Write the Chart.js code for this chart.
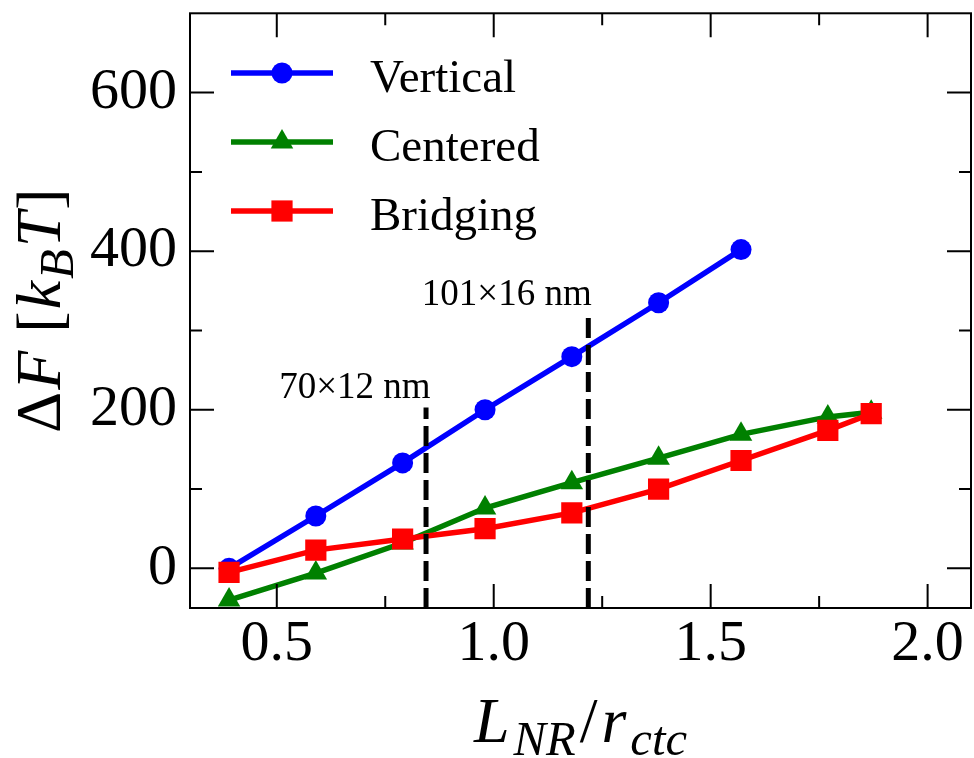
<!DOCTYPE html>
<html>
<head>
<meta charset="utf-8">
<script src="https://cdn.jsdelivr.net/npm/chart.js@4.4.1/dist/chart.umd.min.js"></script>
<style>
html, body { margin:0; padding:0; background:#fff; }
canvas { display:block; }
</style>
</head>
<body>
<canvas id="chart" width="974" height="758"></canvas>
<script>
// values
const xValues = [0.39, 0.59, 0.79, 0.98, 1.18, 1.38, 1.57, 1.77, 1.87]
const vertical = [0, 66, 133, 200, 267, 335, 402]
const centered = [-40, -6, 32, 76, 108, 139, 169, 191, 197]
const bridging = [-5, 23, 37, 50, 70, 100, 136, 174, 195]
const seriesNames = ['Vertical', 'Centered', 'Bridging']
const sizeX = [0.844, 1.218]
const sizeTop = [203, 323]
const sizeLabels = ['70×12 nm', '101×16 nm']
const xTicks = [0.5, 1.0, 1.5, 2.0]
const xMinor = [0.75, 1.25, 1.75]
const yTicks = [0, 200, 400, 600]
const yMinor = [100, 300, 500]

const SERIF = '"Liberation Serif", "Times New Roman", serif'
const toPoints = (ys) => ys.map((y, i) => ({x: xValues[i], y: y}))

const series = [
	{label: seriesNames[0], data: toPoints(vertical), color: '#0000ff', pointStyle: 'circle', radius: 10.5, order: 3},
	{label: seriesNames[1], data: toPoints(centered), color: '#008000', pointStyle: 'triangle', radius: 13, order: 2},
	{label: seriesNames[2], data: toPoints(bridging), color: '#ff0000', pointStyle: 'rect', radius: 15, order: 1}
]

const datasets = series.map(s => ({
	label: s.label,
	data: s.data,
	showLine: true,
	borderColor: s.color,
	backgroundColor: s.color,
	borderWidth: 5.5,
	pointStyle: s.pointStyle,
	pointRadius: s.radius,
	pointHoverRadius: s.radius,
	pointBackgroundColor: s.color,
	pointBorderColor: s.color,
	pointBorderWidth: 0,
	order: s.order,
	clip: 0
}))

// the two dashed size markers, from the bottom of the axis up to their tops
sizeX.forEach((x, i) => {
	datasets.push({
		label: 'size' + i,
		data: [{x: x, y: -50}, {x: x, y: sizeTop[i]}],
		showLine: true,
		borderColor: '#000',
		borderWidth: 5,
		borderDash: [20, 7],
		pointRadius: 0,
		order: 0,
		clip: 0
	})
})

// draw a run of pieces [text, italic, subscript], centred on x, baseline y
function drawRuns(ctx, runs, size, cx, by, gap) {
	const fontOf = r => (r[1] ? 'italic ' : '') + (r[2] ? size * 0.76 : size) + 'px ' + SERIF
	let total = gap * (runs.length - 1)
	const widths = runs.map(r => { ctx.font = fontOf(r); const w = ctx.measureText(r[0]).width; total += w; return w })
	let x = cx - total / 2
	ctx.textAlign = 'left'
	ctx.textBaseline = 'alphabetic'
	runs.forEach((r, i) => {
		ctx.font = fontOf(r)
		ctx.fillText(r[0], x, by + (r[2] ? size * 0.2 : 0))
		x += widths[i] + gap
	})
}

const framePlugin = {
	id: 'frame',
	afterDraw(chart) {
		const ctx = chart.ctx
		const a = chart.chartArea
		const xs = chart.scales.x, ys = chart.scales.y
		ctx.save()
		ctx.strokeStyle = '#000'
		ctx.lineWidth = 2
		ctx.strokeRect(a.left, a.top, a.right - a.left, a.bottom - a.top)
		const tick = (vals, len) => {
			vals.forEach(v => {
				const px = xs.getPixelForValue(v)
				ctx.beginPath()
				ctx.moveTo(px, a.bottom); ctx.lineTo(px, a.bottom - len)
				ctx.moveTo(px, a.top); ctx.lineTo(px, a.top + len)
				ctx.stroke()
			})
		}
		const tickY = (vals, len) => {
			vals.forEach(v => {
				const py = ys.getPixelForValue(v)
				ctx.beginPath()
				ctx.moveTo(a.left, py); ctx.lineTo(a.left + len, py)
				ctx.moveTo(a.right, py); ctx.lineTo(a.right - len, py)
				ctx.stroke()
			})
		}
		tick(xTicks, 24); tick(xMinor, 12)
		tickY(yTicks, 24); tickY(yMinor, 12)

		// size annotations
		ctx.fillStyle = '#000'
		ctx.font = '37px ' + SERIF
		ctx.textAlign = 'center'
		ctx.textBaseline = 'alphabetic'
		const labelPos = [[0.68, 215], [1.03, 332]]
		sizeLabels.forEach((t, i) => {
			ctx.fillText(t, xs.getPixelForValue(labelPos[i][0]), ys.getPixelForValue(labelPos[i][1]))
		})

		// legend
		const rows = [73, 142, 211]
		series.forEach((s, i) => {
			const y = rows[i]
			ctx.strokeStyle = s.color
			ctx.lineWidth = 5.5
			ctx.beginPath(); ctx.moveTo(231, y); ctx.lineTo(333, y); ctx.stroke()
			ctx.fillStyle = s.color
			Chart.helpers.drawPoint(ctx, {pointStyle: s.pointStyle, radius: s.radius, rotation: 0, borderWidth: 0}, 282, y)
			ctx.fillStyle = '#000'
			ctx.font = '47px ' + SERIF
			ctx.textAlign = 'left'
			ctx.textBaseline = 'alphabetic'
			ctx.fillText(s.label, 370, y + 19)
		})

		// axis titles
		ctx.fillStyle = '#000'
		drawRuns(ctx, [['L', 1, 0], ['NR', 1, 1], ['/', 0, 0], ['r', 1, 0], ['ctc', 1, 1]], 64, (a.left + a.right) / 2, 742, 4)
		ctx.translate(60, (a.top + a.bottom) / 2)
		ctx.rotate(-Math.PI / 2)
		drawRuns(ctx, [['\u0394', 0, 0], ['F', 1, 0], [' [', 0, 0], ['k', 1, 0], ['B', 1, 1], ['T', 1, 0], [']', 0, 0]], 64, 0, 0, 2)
		ctx.restore()
	}
}

new Chart(document.getElementById('chart'), {
	type: 'scatter',
	data: {datasets: datasets},
	options: {
		responsive: false,
		animation: false,
		devicePixelRatio: 1,
		layout: {autoPadding: false, padding: {left: 0, top: 13, right: 3, bottom: 0}},
		plugins: {legend: {display: false}, tooltip: {enabled: false}},
		scales: {
			x: {
				type: 'linear',
				min: 0.3,
				max: 2.1,
				grid: {display: false, drawTicks: false},
				border: {display: false},
				ticks: {
					stepSize: 0.5,
					includeBounds: false,
					padding: 2,
					color: '#000',
					font: {family: SERIF, size: 58},
					callback: v => v.toFixed(1)
				},
				afterFit: s => { s.height = 150 }
			},
			y: {
				type: 'linear',
				min: -50,
				max: 700,
				grid: {display: false, drawTicks: false},
				border: {display: false},
				ticks: {
					stepSize: 200,
					includeBounds: false,
					autoSkip: false,
					padding: 13,
					color: '#000',
					// tiny line height so the label does not push the plot top down
					font: {family: SERIF, size: 58, lineHeight: 0.01},
					callback: v => String(v)
				},
				afterFit: s => { s.width = 190 }
			}
		}
	},
	plugins: [framePlugin]
})
</script>
</body>
</html>
